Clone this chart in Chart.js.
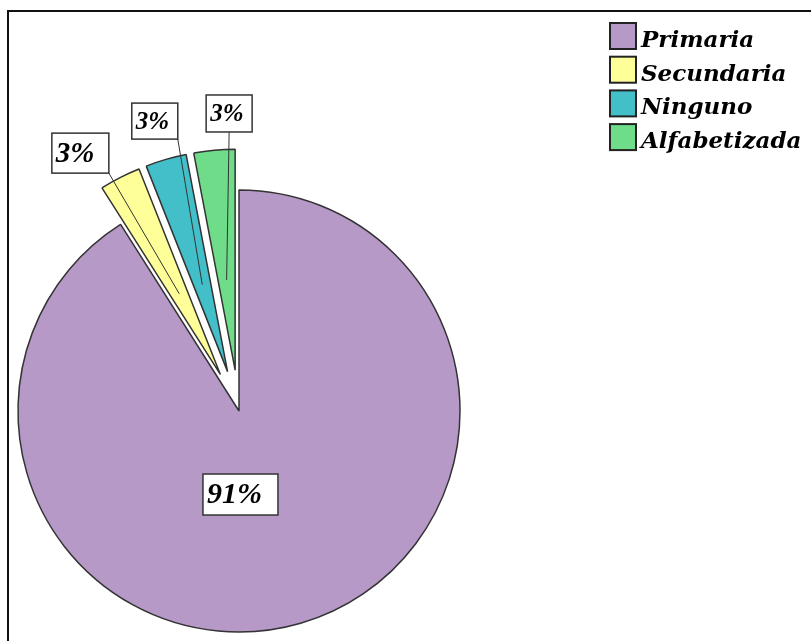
<!DOCTYPE html>
<html lang="es">
<head>
<meta charset="utf-8">
<title>Nivel de instrucción</title>
<script src="https://cdn.jsdelivr.net/npm/chart.js@4/dist/chart.umd.min.js"></script>
<style>
  html, body { margin: 0; padding: 0; background: #fff; }
  #wrap { position: relative; width: 811px; height: 641px; overflow: hidden; }
  #frame {
    position: absolute; left: 7px; top: 10px; right: -4px; bottom: -4px;
    border-top: 2px solid #111; border-left: 2px solid #111;
    pointer-events: none;
  }
  canvas { position: absolute; left: 0; top: 0; }
</style>
</head>
<body>
<div id="wrap">
  <canvas id="pieChart" width="811" height="641"></canvas>
  <div id="frame"></div>
</div>
<script>
// datos
const categories = ['Primaria', 'Secundaria', 'Ninguno', 'Alfabetizada'];
const percentages = [91, 3, 3, 3];

// estilo
const sliceColors = ['#b799c8', '#ffff99', '#42bfc8', '#6edc88'];
const sliceExplode = [0, 41, 41, 41];   // px hacia afuera
const labelFontSize = [30, 29, 25, 25];
const labelBox = [[75, 41], [57, 40], [46, 36], [46, 37]];
// posicion de la etiqueta: angulo (grados, desde arriba, horario) y distancia / radio
const labelAngle = [179, 328.4, 343.8, 358.1];
const labelDist = [0.378, 1.370, 1.366, 1.347];
const PIE_RADIUS = 221;

// separa los sectores pequeños moviendo su centro (sin cambiar radio ni angulo)
const explodeSlices = {
  id: 'explodeSlices',
  afterDatasetsUpdate(chart) {
    chart.getDatasetMeta(0).data.forEach((arc, i) => {
      const mid = (arc.startAngle + arc.endAngle) / 2;
      arc.x += Math.cos(mid) * sliceExplode[i];
      arc.y += Math.sin(mid) * sliceExplode[i];
    });
  }
};

// etiquetas con recuadro blanco y linea guia
const boxLabels = {
  id: 'boxLabels',
  afterDatasetsDraw(chart) {
    const ctx = chart.ctx;
    const area = chart.chartArea;
    const x0 = (area.left + area.right) / 2;
    const y0 = (area.top + area.bottom) / 2;
    const r = PIE_RADIUS;
    ctx.save();
    chart.getDatasetMeta(0).data.forEach((arc, i) => {
      const a = labelAngle[i] * Math.PI / 180;
      const cx = x0 + Math.sin(a) * labelDist[i] * r;
      const cy = y0 - Math.cos(a) * labelDist[i] * r;
      const [w, h] = labelBox[i];
      const left = cx - w / 2, top = cy - h / 2;

      // linea guia para los sectores separados
      if (sliceExplode[i] > 0) {
        const mid = (arc.startAngle + arc.endAngle) / 2;
        const px = arc.x + Math.cos(mid) * 0.41 * r;
        const py = arc.y + Math.sin(mid) * 0.41 * r;
        let qx = cx;
        if (px > left + w) qx = left + w;
        else if (px < left) qx = left;
        ctx.beginPath();
        ctx.moveTo(px, py);
        ctx.lineTo(qx, top + h);
        ctx.lineWidth = 1;
        ctx.strokeStyle = '#333';
        ctx.stroke();
      }

      ctx.fillStyle = '#fff';
      ctx.fillRect(left, top, w, h);
      ctx.lineWidth = 1.5;
      ctx.strokeStyle = '#333';
      ctx.strokeRect(left, top, w, h);

      ctx.fillStyle = '#000';
      ctx.font = `italic bold ${labelFontSize[i]}px "Liberation Serif"`;
      ctx.textAlign = 'left';
      ctx.textBaseline = 'middle';
      ctx.fillText(percentages[i] + '%', left + 4, cy + 1);
    });
    ctx.restore();
  }
};

// leyenda a la derecha
const boxLegend = {
  id: 'boxLegend',
  afterDraw(chart) {
    const ctx = chart.ctx;
    ctx.save();
    ctx.font = 'italic bold 23px "DejaVu Serif"';
    ctx.textAlign = 'left';
    ctx.textBaseline = 'alphabetic';
    categories.forEach((name, i) => {
      const top = 23 + i * 33.7;
      ctx.fillStyle = sliceColors[i];
      ctx.fillRect(610, top, 26, 26);
      ctx.lineWidth = 2;
      ctx.strokeStyle = '#222';
      ctx.strokeRect(610, top, 26, 26);
      ctx.fillStyle = '#000';
      ctx.fillText(name, 641, top + 24);
    });
    ctx.restore();
  }
};

new Chart(document.getElementById('pieChart'), {
  type: 'pie',
  data: {
    labels: categories,
    datasets: [{
      data: percentages,
      backgroundColor: sliceColors,
      borderColor: '#333',
      borderWidth: 1.5,
      hoverOffset: 0,
      radius: PIE_RADIUS,
      clip: false
    }]
  },
  options: {
    responsive: false,
    animation: false,
    events: [],
    // centro del pastel en (239, 411)
    layout: { padding: { left: 0, right: 333, top: 181, bottom: 0 } },
    plugins: {
      legend: { display: false },
      tooltip: { enabled: false }
    }
  },
  plugins: [explodeSlices, boxLabels, boxLegend]
});
</script>
</body>
</html>
